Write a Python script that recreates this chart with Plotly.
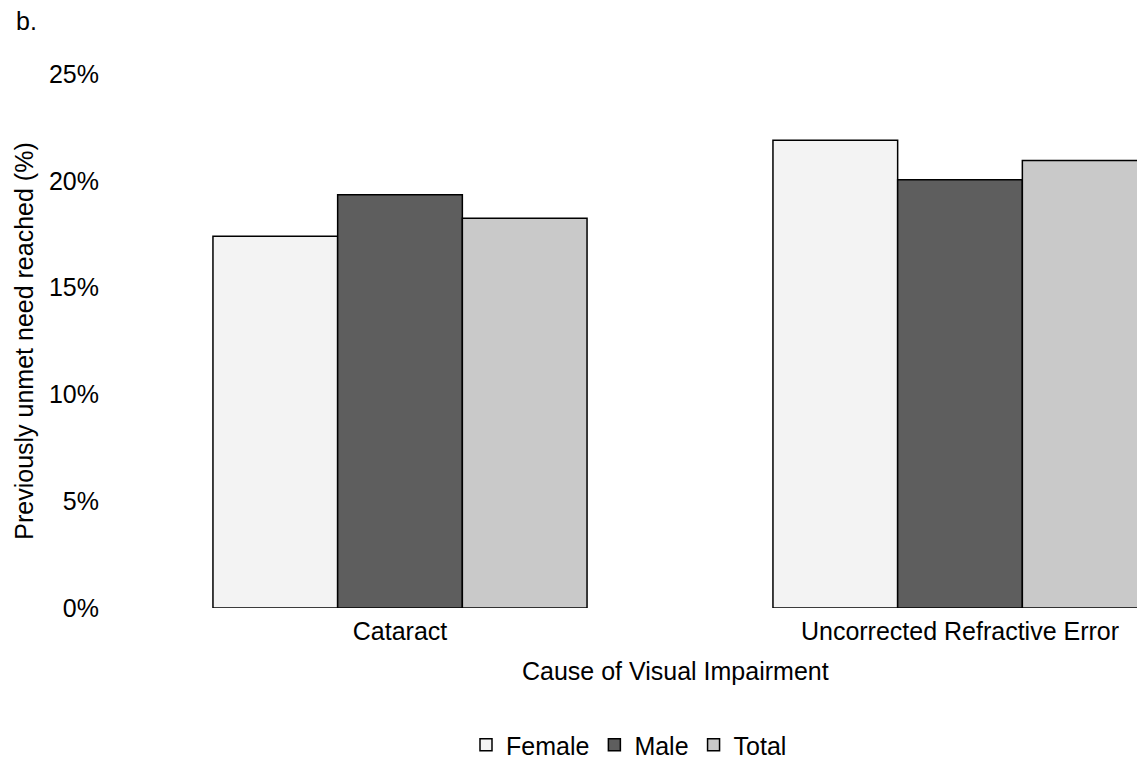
import plotly.graph_objects as go

categories = ["Cataract", "Uncorrected Refractive Error"]
female = [17.4, 21.9]
male = [19.35, 20.05]
total = [18.25, 20.95]
y_ticks = [0, 5, 10, 15, 20, 25]
y_tick_labels = ["0%", "5%", "10%", "15%", "20%", "25%"]

FONT = "Liberation Sans, Arial, Helvetica, sans-serif"
W, H_REF = 1137, 759
K = 768.0 / 759.0          # capture appears vertically squeezed; compensate
H = int(round(H_REF * K))

def ky(p):
    return p * K

L, R = 120, 0
T = int(round(ky(73)))
B = H - int(round(ky(608)))

fig = go.Figure()
for name, vals, col in [("Female", female, "#f3f3f3"),
                        ("Male", male, "#5e5e5e"),
                        ("Total", total, "#c9c9c9")]:
    fig.add_trace(go.Bar(name=name, x=categories, y=vals,
                         marker=dict(color=col, line=dict(color="#000000", width=1.5))))

plot_w = W - L - R
plot_h = H - T - B
band = 560.0
x_hi = -0.5 + plot_w / band

def px_x(p):
    return (p - L) / plot_w

def px_y(p):
    return (H - B - ky(p)) / plot_h

fig.update_layout(
    width=W, height=H,
    margin=dict(l=L, r=R, t=T, b=B, pad=0),
    paper_bgcolor="white", plot_bgcolor="white",
    font=dict(family=FONT, size=25, color="#000000"),
    barmode="group", bargap=0.332, bargroupgap=0,
    showlegend=True,
    legend=dict(orientation="h", x=px_x(629), xanchor="center",
                y=px_y(745), yanchor="middle",
                font=dict(size=25), itemwidth=30, traceorder="normal"),
    xaxis=dict(range=[-0.5, x_hi], showgrid=False, zeroline=False, showline=False,
               ticks="", ticklabelstandoff=6, tickfont=dict(size=25)),
    yaxis=dict(range=[0, 25], tickvals=y_ticks, ticktext=y_tick_labels,
               showgrid=False, zeroline=False, showline=False, ticks="",
               ticklabelstandoff=20, tickfont=dict(size=25),
               title=dict(text="Previously unmet need reached (%)",
                          font=dict(size=25), standoff=8)),
    annotations=[
        dict(text="b.", x=px_x(14), y=px_y(20), xref="paper", yref="paper",
             xanchor="left", yanchor="middle", showarrow=False, font=dict(size=25)),
        dict(text="Cause of Visual Impairment", x=px_x(520), y=px_y(671),
             xref="paper", yref="paper", xanchor="left", yanchor="middle",
             showarrow=False, font=dict(size=25)),
    ],
)

css = "margin:0;padding:0;overflow:hidden;"
fig.write_html(
    "out.html",
    config={"displayModeBar": False},
    post_script=("document.documentElement.style.cssText='%s';"
                 "document.body.style.cssText='%s';" % (css, css)),
)
